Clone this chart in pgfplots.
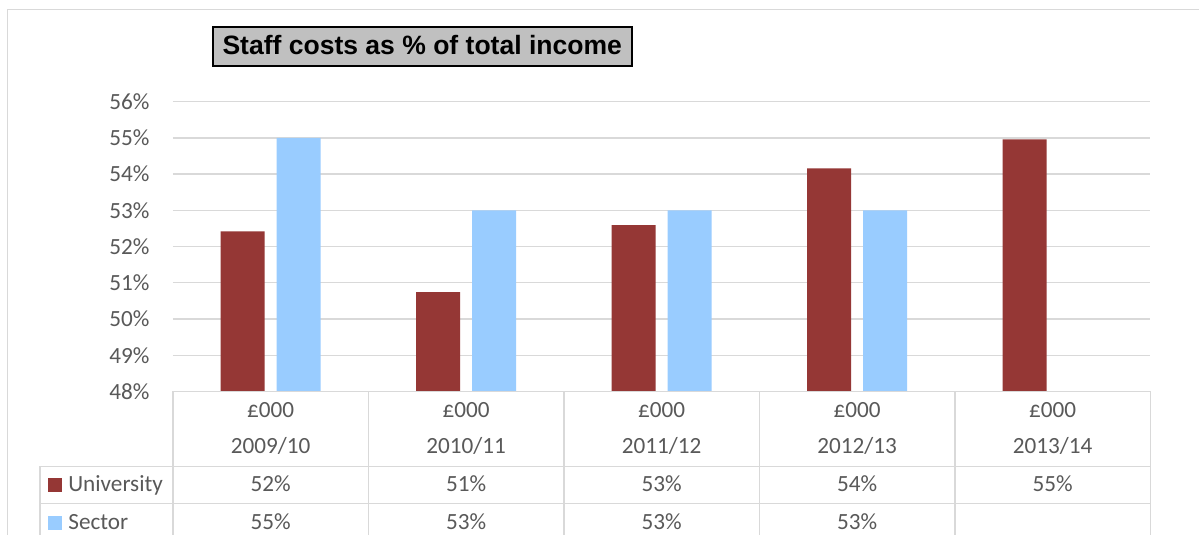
\documentclass[border=0pt]{standalone}
\usepackage{pgfplots}
\pgfplotsset{compat=1.18}
\usepackage{fontspec}
\setmainfont{Carlito}
\newfontfamily\titlefont{Liberation Sans}
\definecolor{uni}{HTML}{953735}
\definecolor{sec}{HTML}{99CCFF}
\definecolor{gridc}{HTML}{D9D9D9}
\definecolor{txt}{HTML}{595959}
\definecolor{titlebg}{HTML}{C0C0C0}
\newcommand{\tf}{\fontsize{11.6}{14}\selectfont}
\begin{document}
\begin{tikzpicture}
\begin{scope}[x=0.5pt,y=-0.5pt]
\fill[white] (0,0) rectangle (1200,535);
\draw[gridc, line width=0.75pt] (7.3,535) -- (7.3,9.3) -- (1200,9.3);
\end{scope}
\begin{axis}[
  at={(86.5pt,-195.85pt)}, anchor=south west,
  scale only axis, width=489pt, height=145pt,
  xmin=-0.5, xmax=4.5, ymin=48, ymax=56,
  ytick={48,49,...,56},
  yticklabel={\pgfmathprintnumber{\tick}\%},
  /pgf/number format/assume math mode=true,
  yticklabel style={font=\tf, text=txt, anchor=east, inner sep=0pt, xshift=-11.5pt},
  xtick=\empty,
  axis line style={draw=none},
  tick style={draw=none},
  ymajorgrids, grid style={gridc, line width=0.7pt},
]
\addplot[ybar, bar width=22pt, bar shift=-14pt, fill=uni, draw=none]
  coordinates {(0,52.42) (1,50.74) (2,52.59) (3,54.16) (4,54.96)};
\addplot[ybar, bar width=22pt, bar shift=14pt, fill=sec, draw=none]
  coordinates {(0,55.0) (1,53.0) (2,53.0) (3,53.0)};
\end{axis}
\begin{scope}[x=0.5pt,y=-0.5pt]
% data table grid
\draw[gridc, line width=0.75pt] (173,391.7) -- (1151,391.7);
\draw[gridc, line width=0.75pt] (40,466.7) -- (1151,466.7);
\draw[gridc, line width=0.75pt] (40,504) -- (1151,504);
\foreach \vx in {173,368.6,564.2,759.8,955.4,1151}
  \draw[gridc, line width=0.75pt] (\vx,391.7) -- (\vx,535);
\draw[gridc, line width=0.75pt] (40,466.7) -- (40,535);
% header
\begin{scope}[every node/.style={anchor=base, font=\tf, text=txt, inner sep=0pt}]
\node at (270.8,418) {£000};
\node at (466.4,418) {£000};
\node at (662.0,418) {£000};
\node at (857.6,418) {£000};
\node at (1053.2,418) {£000};
\node at (270.8,454) {2009/10};
\node at (466.4,454) {2010/11};
\node at (662.0,454) {2011/12};
\node at (857.6,454) {2012/13};
\node at (1053.2,454) {2013/14};
\node at (270.8,491.7) {52\%};
\node at (466.4,491.7) {51\%};
\node at (662.0,491.7) {53\%};
\node at (857.6,491.7) {54\%};
\node at (1053.2,491.7) {55\%};
\node at (270.8,530) {55\%};
\node at (466.4,530) {53\%};
\node at (662.0,530) {53\%};
\node at (857.6,530) {53\%};
\node[anchor=base west] at (68,491.7) {University};
\node[anchor=base west] at (68,530) {Sector};
\end{scope}
\fill[uni] (48,478) rectangle (62,492);
\fill[sec] (48,516) rectangle (62,530);
% title
\draw[black, line width=1pt, fill=titlebg] (213,27) rectangle (632,66);
\node[anchor=base, inner sep=0pt, font=\titlefont\bfseries\fontsize{13.27}{16}\selectfont] at (422.5,55) {Staff costs as \% of total income};
\end{scope}
\end{tikzpicture}
\end{document}
